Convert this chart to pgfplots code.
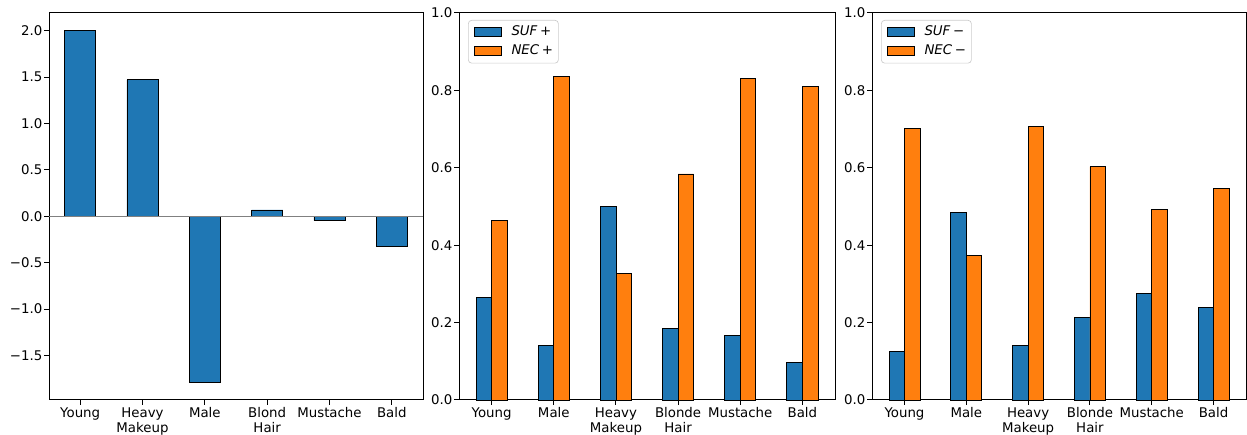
\documentclass[border=0pt]{standalone}
\usepackage{pgfplots}
\pgfplotsset{compat=1.18}
\usepackage{fontspec}
\setmainfont{DejaVu Sans}
\definecolor{c0}{HTML}{1F77B4}
\definecolor{c1}{HTML}{FF7F0E}
\pgfplotsset{
  base/.style={
    scale only axis, height=232.2pt, anchor=south west,
    axis line style={black, line width=0.6pt},
    tick align=outside, xtick pos=bottom, ytick pos=left,
    major tick length=2.8pt,
    every tick/.style={black, line width=0.6pt},
    ticklabel style={font=\fontsize{8}{9.2}\selectfont},
    xticklabel style={align=center, inner sep=1pt, yshift=-0.5pt},
    yticklabel style={inner sep=1pt},
    xtick={0,...,5},
    clip=false,
  },
  mybar/.style={ybar, draw=black, line width=0.5pt,
    legend image code/.code={\draw[##1, sharp corners, line width=0.5pt] (0pt,-2.7pt) rectangle (16.2pt,2.7pt);}},
  leg/.style={legend style={at={(0,1)}, anchor=north west, xshift=5.4pt, yshift=-4.2pt,
    draw=black!20, rounded corners=2pt, font=\fontsize{8}{9.2}\selectfont,
    inner xsep=3.2pt, inner ysep=2.2pt, row sep=1.9pt, column sep=6pt,
    nodes={inner xsep=0pt, inner ysep=1pt, text height=6pt, text depth=1.7pt}}, legend cell align=left},
}
\begin{document}
\begin{tikzpicture}
\useasboundingbox (0,0) rectangle (748.2pt,261pt);
% Panel 1
\begin{axis}[base, at={(29.4pt,21pt)}, width=224.4pt,
  xmin=-0.5, xmax=5.5, ymin=-1.98, ymax=2.19,
  ytick={-1.5,-1,-0.5,0,0.5,1,1.5,2},
  yticklabels={−1.5,−1.0,−0.5,0.0,0.5,1.0,1.5,2.0},
  xticklabels={Young,{Heavy\\Makeup},Male,{Blond\\Hair},Mustache,Bald}]
\addplot[mybar, bar width=0.5, bar shift=0, fill=c0] coordinates {(0,2.0) (1,1.47) (2,-1.79) (3,0.068) (4,-0.046) (5,-0.326)};
\addplot[gray, line width=0.8pt] coordinates {(-0.5,0) (5.5,0)};
\end{axis}
% Panel 2
\begin{axis}[base, leg, at={(275.4pt,21pt)}, width=225.6pt,
  xmin=-0.525, xmax=5.525, ymin=0, ymax=1,
  ytick={0,0.2,0.4,0.6,0.8,1},
  yticklabels={0.0,0.2,0.4,0.6,0.8,1.0},
  xticklabels={Young,Male,{Heavy\\Makeup},{Blonde\\Hair},Mustache,Bald}]
\addplot[mybar, bar width=0.25, bar shift=-0.125, fill=c0] coordinates {(0,0.265) (1,0.141) (2,0.501) (3,0.184) (4,0.167) (5,0.098)};
\addlegendentry{\textit{SUF}\hspace{0.2em}+\hspace{4pt}}
\addplot[mybar, bar width=0.25, bar shift=0.125, fill=c1] coordinates {(0,0.465) (1,0.837) (2,0.328) (3,0.584) (4,0.831) (5,0.809)};
\addlegendentry{\textit{NEC}\hspace{0.2em}+\hspace{4pt}}
\end{axis}
% Panel 3
\begin{axis}[base, leg, at={(523.2pt,21pt)}, width=224.4pt,
  xmin=-0.525, xmax=5.525, ymin=0, ymax=1,
  ytick={0,0.2,0.4,0.6,0.8,1},
  yticklabels={0.0,0.2,0.4,0.6,0.8,1.0},
  xticklabels={Young,Male,{Heavy\\Makeup},{Blonde\\Hair},Mustache,Bald}]
\addplot[mybar, bar width=0.25, bar shift=-0.125, fill=c0] coordinates {(0,0.126) (1,0.485) (2,0.141) (3,0.214) (4,0.276) (5,0.239)};
\addlegendentry{\textit{SUF}\hspace{0.2em}−\hspace{4pt}}
\addplot[mybar, bar width=0.25, bar shift=0.125, fill=c1] coordinates {(0,0.702) (1,0.374) (2,0.706) (3,0.603) (4,0.492) (5,0.547)};
\addlegendentry{\textit{NEC}\hspace{0.2em}−\hspace{4pt}}
\end{axis}
\end{tikzpicture}
\end{document}
